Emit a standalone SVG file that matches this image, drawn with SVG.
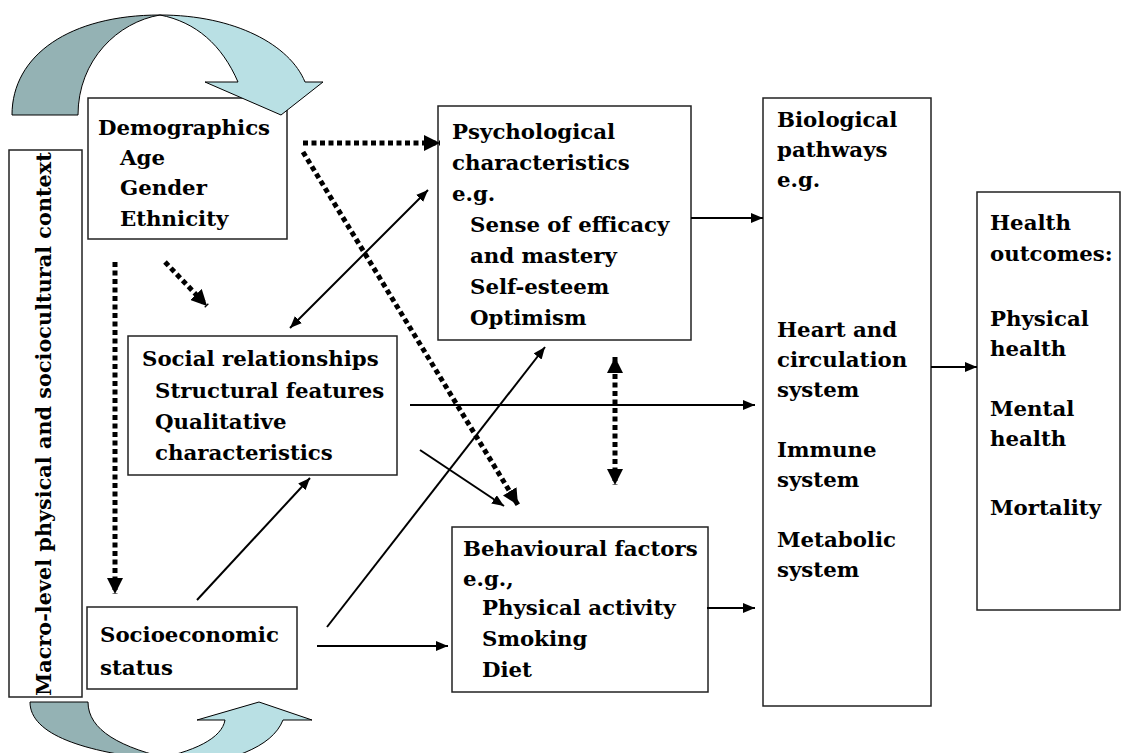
<svg xmlns="http://www.w3.org/2000/svg" width="1129" height="753" viewBox="0 0 1129 753">
<style>
.box{fill:#fff;stroke:#222;stroke-width:1.5}
.t{font-family:"DejaVu Serif","Liberation Serif",serif;font-weight:bold;font-size:21.3px;fill:#000}
.s{fill:none;stroke:#000;stroke-width:2}
.d{fill:none;stroke:#000;stroke-width:5;stroke-dasharray:5 3.5}
.dark{fill:#94B2B4;stroke:#000;stroke-width:1}
.light{fill:#B9E0E4;stroke:#000;stroke-width:1}
</style>
<defs>
<marker id="ah" viewBox="0 0 12 10" refX="12" refY="5" markerWidth="12" markerHeight="10" markerUnits="userSpaceOnUse" orient="auto-start-reverse"><path d="M0,0 L12,5 L0,10 Z" fill="#000"/></marker>
<marker id="dh" viewBox="0 0 16 16" refX="16" refY="8" markerWidth="16" markerHeight="16" markerUnits="userSpaceOnUse" orient="auto-start-reverse"><path d="M0,0 L16,8 L0,16 Z" fill="#000"/></marker>
</defs>
<rect width="1129" height="753" fill="#fff"/>
<g id="context">
<rect class="box" x="9" y="150" width="73" height="547"/>
<text class="t" style="font-size:20.8px" transform="translate(51,424) rotate(-90)" text-anchor="middle">Macro-level physical and sociocultural context</text>
</g>
<g id="demographics">
<rect class="box" x="88" y="98" width="199" height="141"/>
<text class="t" x="98" y="135">Demographics</text>
<text class="t" x="120" y="165">Age</text>
<text class="t" x="120" y="195">Gender</text>
<text class="t" x="120" y="226">Ethnicity</text>
</g>
<g id="curve-top">
<path class="dark" d="M12,115 C12,55 70,15 160,15 C118,22 78,60 78,115 Z"/>
<path class="light" d="M160,15 C235,15 290,45 305,82 L323,82 L281,115 L205,82 L238,82 C222,45 196,22 160,15 Z"/>
</g>
<g id="curve-bottom">
<path class="dark" d="M30,702 C30,735 85,752 160,760 L175,760 C120,748 88,730 88,702 Z"/>
<path class="light" d="M150,760 C195,752 222,738 225,720 L197,720 L259,702 L312,720 L283,720 C272,748 230,762 170,770 Z"/>
</g>
<g id="psychological">
<rect class="box" x="438" y="106" width="253" height="234"/>
<text class="t" x="452" y="139">Psychological</text>
<text class="t" x="452" y="170">characteristics</text>
<text class="t" x="452" y="201">e.g.</text>
<text class="t" x="470" y="232">Sense of efficacy</text>
<text class="t" x="470" y="263">and mastery</text>
<text class="t" x="470" y="294">Self-esteem</text>
<text class="t" x="470" y="325">Optimism</text>
</g>
<g id="biological">
<rect class="box" x="763" y="98" width="168" height="608"/>
<text class="t" x="777" y="127">Biological</text>
<text class="t" x="777" y="157">pathways</text>
<text class="t" x="777" y="187">e.g.</text>
<text class="t" x="777" y="337">Heart and</text>
<text class="t" x="777" y="367">circulation</text>
<text class="t" x="777" y="397">system</text>
<text class="t" x="777" y="457">Immune</text>
<text class="t" x="777" y="487">system</text>
<text class="t" x="777" y="547">Metabolic</text>
<text class="t" x="777" y="577">system</text>
</g>
<g id="health">
<rect class="box" x="977" y="192" width="143" height="418"/>
<text class="t" x="990" y="230">Health</text>
<text class="t" x="990" y="261">outcomes:</text>
<text class="t" x="990" y="326">Physical</text>
<text class="t" x="990" y="356">health</text>
<text class="t" x="990" y="416">Mental</text>
<text class="t" x="990" y="446">health</text>
<text class="t" x="990" y="515">Mortality</text>
</g>
<g id="social">
<rect class="box" x="128" y="336" width="269" height="139"/>
<text class="t" x="142" y="366">Social relationships</text>
<text class="t" x="155" y="398">Structural features</text>
<text class="t" x="155" y="429">Qualitative</text>
<text class="t" x="155" y="460">characteristics</text>
</g>
<g id="socioeconomic">
<rect class="box" x="87" y="607" width="210" height="82"/>
<text class="t" x="100" y="642">Socioeconomic</text>
<text class="t" x="100" y="675">status</text>
</g>
<g id="behavioural">
<rect class="box" x="452" y="527" width="256" height="165"/>
<text class="t" x="463" y="556">Behavioural factors</text>
<text class="t" x="463" y="586">e.g.,</text>
<text class="t" x="482" y="615">Physical activity</text>
<text class="t" x="482" y="646">Smoking</text>
<text class="t" x="482" y="677">Diet</text>
</g>
<g id="connectors">
<path class="d" d="M303,143 L440,143" marker-end="url(#dh)"/>
<path class="d" d="M303,152 L518,505" marker-end="url(#dh)"/>
<path class="d" d="M115,262 L115,594" marker-end="url(#dh)"/>
<path class="d" d="M165,262 L207,306" marker-end="url(#dh)"/>
<path class="d" d="M615,357 L615,485" marker-start="url(#dh)" marker-end="url(#dh)"/>
<path class="s" d="M290,328 L428,190" marker-start="url(#ah)" marker-end="url(#ah)"/>
<path class="s" d="M691,218 L763,218" marker-end="url(#ah)"/>
<path class="s" d="M410,405 L755,405" marker-end="url(#ah)"/>
<path class="s" d="M420,450 L504,506" marker-end="url(#ah)"/>
<path class="s" d="M197,600 L310,478" marker-end="url(#ah)"/>
<path class="s" d="M327,627 L545,347" marker-end="url(#ah)"/>
<path class="s" d="M317,646 L448,646" marker-end="url(#ah)"/>
<path class="s" d="M707,608 L755,608" marker-end="url(#ah)"/>
<path class="s" d="M931,367 L977,367" marker-end="url(#ah)"/>
</g>
</svg>
